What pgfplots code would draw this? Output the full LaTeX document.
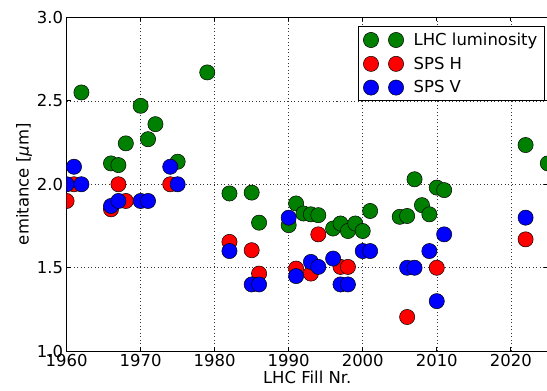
\documentclass[border=0pt]{standalone}
\usepackage{pgfplots}
\pgfplotsset{compat=1.18}
\usepackage{fontspec}
\setmainfont{DejaVu Sans}
\definecolor{mgreen}{rgb}{0,0.5,0}
\begin{document}
\begin{tikzpicture}
\begin{axis}[
  scale only axis,
  width=480.5bp, height=333.4bp,
  xmin=1960, xmax=2025, ymin=1.0, ymax=3.0,
  xtick={1960,1970,1980,1990,2000,2010,2020},
  ytick={1.0,1.5,2.0,2.5,3.0},
  /pgf/number format/assume math mode=true,
  xticklabel style={/pgf/number format/1000 sep={}},
  yticklabel style={/pgf/number format/.cd, fixed, fixed zerofill, precision=1},
  tick label style={font=\fontsize{16.5}{19}\selectfont},
  label style={font=\fontsize{16.5}{19}\selectfont},
  xlabel={LHC Fill Nr.},
  ylabel={emitance [{\itshape μ}m]},
  xlabel style={yshift=3bp},
  ylabel style={yshift=-2bp},
  tick align=inside,
  major tick length=4bp,
  tick style={black, line width=0.6bp},
  axis line style={line width=1bp},
  grid=major,
  grid style={black!80, line width=0.5bp, dash pattern=on 1bp off 2.5bp},
  clip marker paths=true,
  legend style={at={(rel axis cs:0.994,0.974)}, anchor=north east, draw=black, line width=1bp,
    font=\fontsize{16.5}{19}\selectfont, row sep=6bp, column sep=8bp, inner xsep=5bp, inner ysep=4.5bp},
  legend cell align=left,
  legend image code/.code={\draw[#1, only marks] plot coordinates {(0bp,0bp) (25bp,0bp)};},
]
\addplot[only marks, mark=*, mark size=7.6bp, mark options={fill=mgreen, draw=black, line width=0.5bp}] coordinates {
(1962,2.55) (1966,2.125) (1967,2.115) (1968,2.245) (1970,2.47) (1971,2.27) (1972,2.36)
(1975,2.135) (1979,2.67) (1982,1.945) (1985,1.95) (1986,1.77) (1990,1.755) (1991,1.885)
(1992,1.825) (1993,1.82) (1994,1.815) (1996,1.735) (1997,1.765) (1998,1.72) (1999,1.765)
(2000,1.72) (2001,1.84) (2005,1.805) (2006,1.81) (2007,2.03) (2008,1.875) (2009,1.82)
(2010,1.98) (2011,1.965) (2022,2.235) (2025,2.125)
};
\addlegendentry{LHC luminosity}
\addplot[only marks, mark=*, mark size=7.6bp, mark options={fill=red, draw=black, line width=0.5bp}] coordinates {
(1960,1.90) (1961,2.00) (1966,1.85) (1967,2.00) (1968,1.90) (1974,2.00) (1982,1.655)
(1985,1.605) (1986,1.465) (1991,1.495) (1993,1.465) (1994,1.70) (1997,1.505) (1998,1.505)
(2006,1.205) (2010,1.50) (2022,1.67)
};
\addlegendentry{SPS H}
\addplot[only marks, mark=*, mark size=7.6bp, mark options={fill=blue, draw=black, line width=0.5bp}] coordinates {
(1960,2.00) (1961,2.105) (1962,2.00) (1966,1.87) (1967,1.90) (1970,1.90) (1971,1.90)
(1974,2.105) (1975,2.00) (1982,1.60) (1985,1.40) (1986,1.40) (1990,1.80) (1991,1.45)
(1993,1.535) (1994,1.505) (1996,1.555) (1997,1.40) (1998,1.40) (2000,1.60) (2001,1.60)
(2006,1.50) (2007,1.50) (2009,1.60) (2010,1.30) (2011,1.70) (2022,1.80)
};
\addlegendentry{SPS V}
\end{axis}
\pgfresetboundingbox
\path[use as bounding box] ([xshift=-66.5bp,yshift=-39.3bp]current axis.south west) rectangle ([xshift=-0.8bp,yshift=17.3bp]current axis.north east);
\end{tikzpicture}
\end{document}
